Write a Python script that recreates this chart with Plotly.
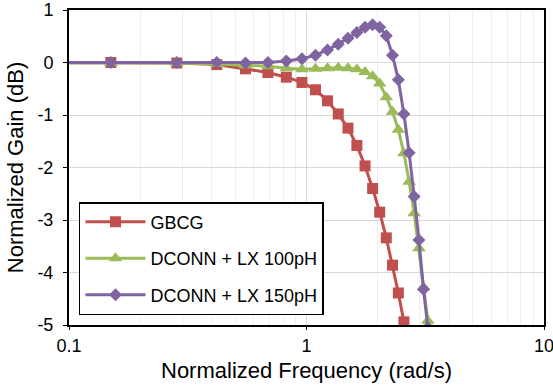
import plotly.graph_objects as go

# Frequency points (rad/s, normalized)
freq = [0.0155, 0.15, 0.2845, 0.419, 0.5535, 0.688, 0.8225, 0.957, 1.0915, 1.226,
        1.3605, 1.495, 1.6295, 1.764, 1.8985, 2.033, 2.1675, 2.302, 2.4365, 2.571,
        2.7055, 2.84, 2.9745, 3.109, 3.2435]

gbcg = [0.0, 0.0, -0.01, -0.04, -0.12, -0.19, -0.28, -0.38, -0.52, -0.73,
        -0.98, -1.25, -1.58, -1.97, -2.40, -2.85, -3.34, -3.86, -4.39, -4.94]

lx100 = [0.0, -0.01, -0.01, -0.03, -0.05, -0.07, -0.11, -0.13, -0.12, -0.11,
         -0.10, -0.11, -0.13, -0.18, -0.26, -0.40, -0.66, -0.94, -1.28, -1.73,
         -2.27, -2.87, -3.54, -4.28, -4.92]

lx150 = [0.0, 0.0, 0.0, 0.0, -0.01, 0.0, 0.03, 0.07, 0.14, 0.24,
         0.35, 0.46, 0.57, 0.67, 0.72, 0.67, 0.51, 0.14, -0.33, -0.98,
         -1.72, -2.55, -3.38, -4.32, -5.05]

series_names = ["GBCG", "DCONN + LX 100pH", "DCONN + LX 150pH"]

x_ticks = [0.1, 1, 10]
x_tick_labels = ["0.1", "1", "10"]
x_minor = [0.2, 0.3, 0.4, 0.5, 0.6, 0.7, 0.8, 0.9, 2, 3, 4, 5, 6, 7, 8, 9]
y_ticks = [1, 0, -1, -2, -3, -4, -5]
y_tick_labels = ["1", "0", "-1", "-2", "-3", "-4", "-5"]

FONT = "Liberation Sans, Arial, sans-serif"

fig = go.Figure()
fig.add_trace(go.Scatter(
    x=freq[:len(gbcg)], y=gbcg, name=series_names[0], mode="lines+markers",
    line=dict(color="#C0504D", width=3),
    marker=dict(symbol="square", size=11, color="#C0504D"),
    legendgroup="a"))
fig.add_trace(go.Scatter(
    x=freq[:len(lx100)], y=lx100, name=series_names[1], mode="lines+markers",
    line=dict(color="#9BBB59", width=3),
    marker=dict(symbol="triangle-up", size=12, color="#9BBB59"),
    legendgroup="b"))
fig.add_trace(go.Scatter(
    x=freq[:len(lx150)], y=lx150, name=series_names[2], mode="lines+markers",
    line=dict(color="#8064A2", width=3),
    marker=dict(symbol="diamond", size=10, color="#8064A2"),
    legendgroup="c"))

fig.update_layout(
    width=553, height=388,
    margin=dict(l=69, r=9, t=10, b=63),
    paper_bgcolor="white", plot_bgcolor="white",
    font=dict(family=FONT, size=18, color="#000000"),
    legend=dict(
        x=0.021, y=0.39, xanchor="left", yanchor="top",
        bgcolor="white", bordercolor="black", borderwidth=1.5,
        font=dict(size=18), itemwidth=60, tracegroupgap=10,
    ),
    showlegend=True,
)

fig.update_xaxes(
    type="log", range=[-1, 1], automargin=False,
    tickmode="array", tickvals=x_ticks, ticktext=x_tick_labels,
    ticklabeloverflow="allow",
    showgrid=True, gridcolor="#d9d9d9", gridwidth=1,
    minor=dict(tickmode="array", tickvals=x_minor, showgrid=True,
               gridcolor="#eeeeee", gridwidth=1, ticks=""),
    showline=True, linecolor="black", linewidth=2, mirror=True,
    ticks="outside", ticklen=3, tickcolor="black",
    ticklabelstandoff=0,
    title=dict(text="Normalized Frequency (rad/s)", standoff=8),
    zeroline=False,
)
fig.update_yaxes(
    range=[-5, 1], automargin=False,
    tickmode="array", tickvals=y_ticks, ticktext=y_tick_labels,
    ticklabeloverflow="allow",
    showgrid=True, gridcolor="#d9d9d9", gridwidth=1,
    showline=True, linecolor="black", linewidth=2, mirror=True,
    ticks="outside", ticklen=4, tickcolor="black",
    ticklabelstandoff=6,
    title=dict(text="Normalized Gain (dB)", standoff=8),
    zeroline=False,
)

fig.write_html("out.html")
